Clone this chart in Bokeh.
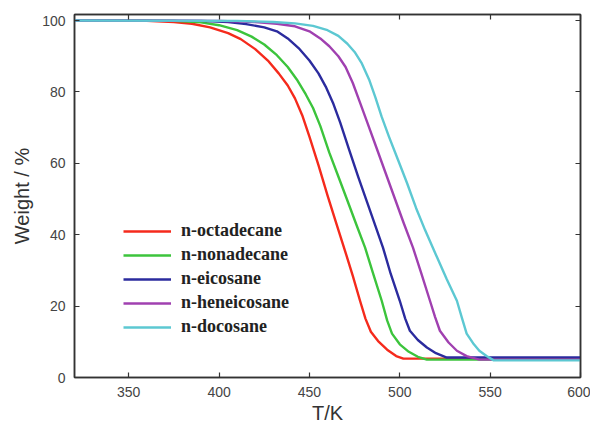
from bokeh.plotting import figure
from bokeh.models import LinearAxis, Range1d, Legend, LegendItem, FixedTicker
from bokeh.embed import file_html
from bokeh.resources import INLINE

# ---- data ----
names = ["n-octadecane", "n-nonadecane", "n-eicosane", "n-heneicosane", "n-docosane"]
colors = ["#f52a1c", "#3cc43c", "#2b2b9e", "#a040b0", "#5cc8d2"]

T_octadecane = [320, 360, 375, 385, 395, 405, 412, 420, 427, 433, 438, 442, 446, 450, 455, 460, 465, 470, 474, 478, 481, 484, 488, 493, 498, 502, 600]
W_octadecane = [100, 99.9, 99.6, 99.1, 98.1, 96.5, 94.8, 92, 88.8, 85.2, 81.8, 78.2, 73.5, 67.5, 59.5, 51, 43, 35, 28.5, 21.5, 16.5, 12.8, 10.2, 7.8, 6, 5.3, 5.3]

T_nonadecane = [320, 375, 390, 400, 410, 418, 425, 432, 438, 443, 448, 452, 456, 461, 466, 471, 476, 480.8, 485, 490, 493, 495.7, 500, 505, 510, 515, 600]
W_nonadecane = [100, 99.9, 99.5, 98.7, 97.3, 95.5, 93.3, 90.3, 87, 83.5, 79.3, 75.5, 70.5, 63, 56.3, 49.6, 42.8, 36.4, 29.5, 21.5, 16, 12.3, 9.3, 7.2, 5.8, 5.0, 5.0]

T_eicosane = [320, 390, 405, 415, 425, 432, 438, 444, 450, 455, 459, 463, 467, 472, 477, 482, 486.5, 490.7, 495, 500, 503, 505.6, 510, 515, 520, 526, 600]
W_eicosane = [100, 99.9, 99.6, 99, 98.1, 97, 95, 92.3, 88.8, 85.2, 81.5, 77, 71.5, 63.8, 56.2, 49, 42.5, 36.4, 29, 21.5, 16.5, 13.1, 10.5, 8.4, 6.8, 5.6, 5.6]

T_heneicosane = [320, 400, 420, 432, 442, 450, 456, 461, 466, 470, 474, 478, 482, 487, 492, 497, 502, 507.3, 512, 516.7, 519.5, 522.2, 527, 531.6, 537, 544, 600]
W_heneicosane = [100, 99.9, 99.6, 99.1, 98.4, 97, 95, 92.8, 90, 87, 82.5, 77, 71.5, 64.5, 57.5, 50.5, 43.5, 36.4, 29, 21.5, 17, 13.1, 9.8, 7.5, 6, 5, 5]

T_docosane = [320, 410, 430, 442, 452, 460, 466, 471, 475, 479, 483, 486.5, 490, 494, 499, 504, 509, 514, 520.5, 526, 531.6, 534.5, 537, 541, 544, 548, 552, 600]
W_docosane = [100, 99.9, 99.6, 99.2, 98.5, 97.3, 95.7, 93.5, 91.2, 88, 83.5, 78.5, 73, 67.5, 61, 54.5, 47.5, 41.3, 33.8, 27.5, 21.5, 16.5, 12.3, 9.3, 7.5, 6, 4.8, 4.8]

x_ticks = [350, 400, 450, 500, 550, 600]
y_ticks = [0, 20, 40, 60, 80, 100]

series = [
    (T_octadecane, W_octadecane),
    (T_nonadecane, W_nonadecane),
    (T_eicosane, W_eicosane),
    (T_heneicosane, W_heneicosane),
    (T_docosane, W_docosane),
]

axis_color = "#333333"
tick_color = "#444444"

p = figure(width=590, height=427, output_backend="svg", toolbar_location=None,
           x_range=Range1d(320, 600), y_range=Range1d(0, 101.7),
           min_border_left=74, min_border_right=10, min_border_top=14, min_border_bottom=50,
           x_axis_location=None, y_axis_location=None)
p.grid.visible = False
p.outline_line_color = axis_color
p.outline_line_width = 1.5
p.background_fill_color = "white"
p.border_fill_color = "white"

def style_axis(ax, labels=True):
    ax.axis_line_color = axis_color
    ax.axis_line_width = 1.5
    ax.major_tick_line_color = axis_color
    ax.major_tick_line_width = 1.2
    ax.major_tick_in = 5
    ax.major_tick_out = 0
    ax.minor_tick_line_color = None
    if labels:
        ax.major_label_text_font = "Liberation Sans"
        ax.major_label_text_font_size = "14px"
        ax.major_label_text_color = tick_color
    else:
        ax.major_label_overrides = {t: "" for t in ax.ticker.ticks}
        ax.major_label_standoff = 0

xb = LinearAxis(ticker=FixedTicker(ticks=x_ticks), axis_label="T/K")
style_axis(xb)
xb.major_label_standoff = 9
xb.axis_label_text_font = "Liberation Sans"
xb.axis_label_text_font_size = "20px"
xb.axis_label_text_font_style = "normal"
xb.axis_label_text_color = "#333333"
xb.axis_label_standoff = 2
xb.axis_label_text_baseline = "middle"
p.add_layout(xb, "below")

yl = LinearAxis(ticker=FixedTicker(ticks=y_ticks), axis_label="Weight / %")
style_axis(yl)
yl.major_label_standoff = 9
yl.axis_label_text_font = "Liberation Sans"
yl.axis_label_text_font_size = "20px"
yl.axis_label_text_font_style = "normal"
yl.axis_label_text_color = "#333333"
yl.axis_label_standoff = 6
p.add_layout(yl, "left")

xt = LinearAxis(ticker=FixedTicker(ticks=x_ticks))
style_axis(xt, labels=False)
p.add_layout(xt, "above")

yr = LinearAxis(ticker=FixedTicker(ticks=y_ticks))
style_axis(yr, labels=False)
p.add_layout(yr, "right")

items = []
for name, col, (T, W) in zip(names, colors, series):
    r = p.line(T, W, line_color=col, line_width=2.4, line_join="round")
    items.append(LegendItem(label=name, renderers=[r]))

legend = Legend(items=items, location=(49, 40))
legend.border_line_color = None
legend.background_fill_alpha = 0
legend.padding = 0
legend.margin = 0
legend.spacing = 3
legend.glyph_width = 48
legend.glyph_height = 20
legend.label_height = 20
legend.label_standoff = 10
legend.label_text_font = "'Liberation Serif', 'Times New Roman', serif"
legend.label_text_font_size = "18px"
legend.label_text_font_style = "bold"
legend.label_text_color = "#222222"
p.add_layout(legend, "center")

open("out.html", "w").write(file_html(p, INLINE))
